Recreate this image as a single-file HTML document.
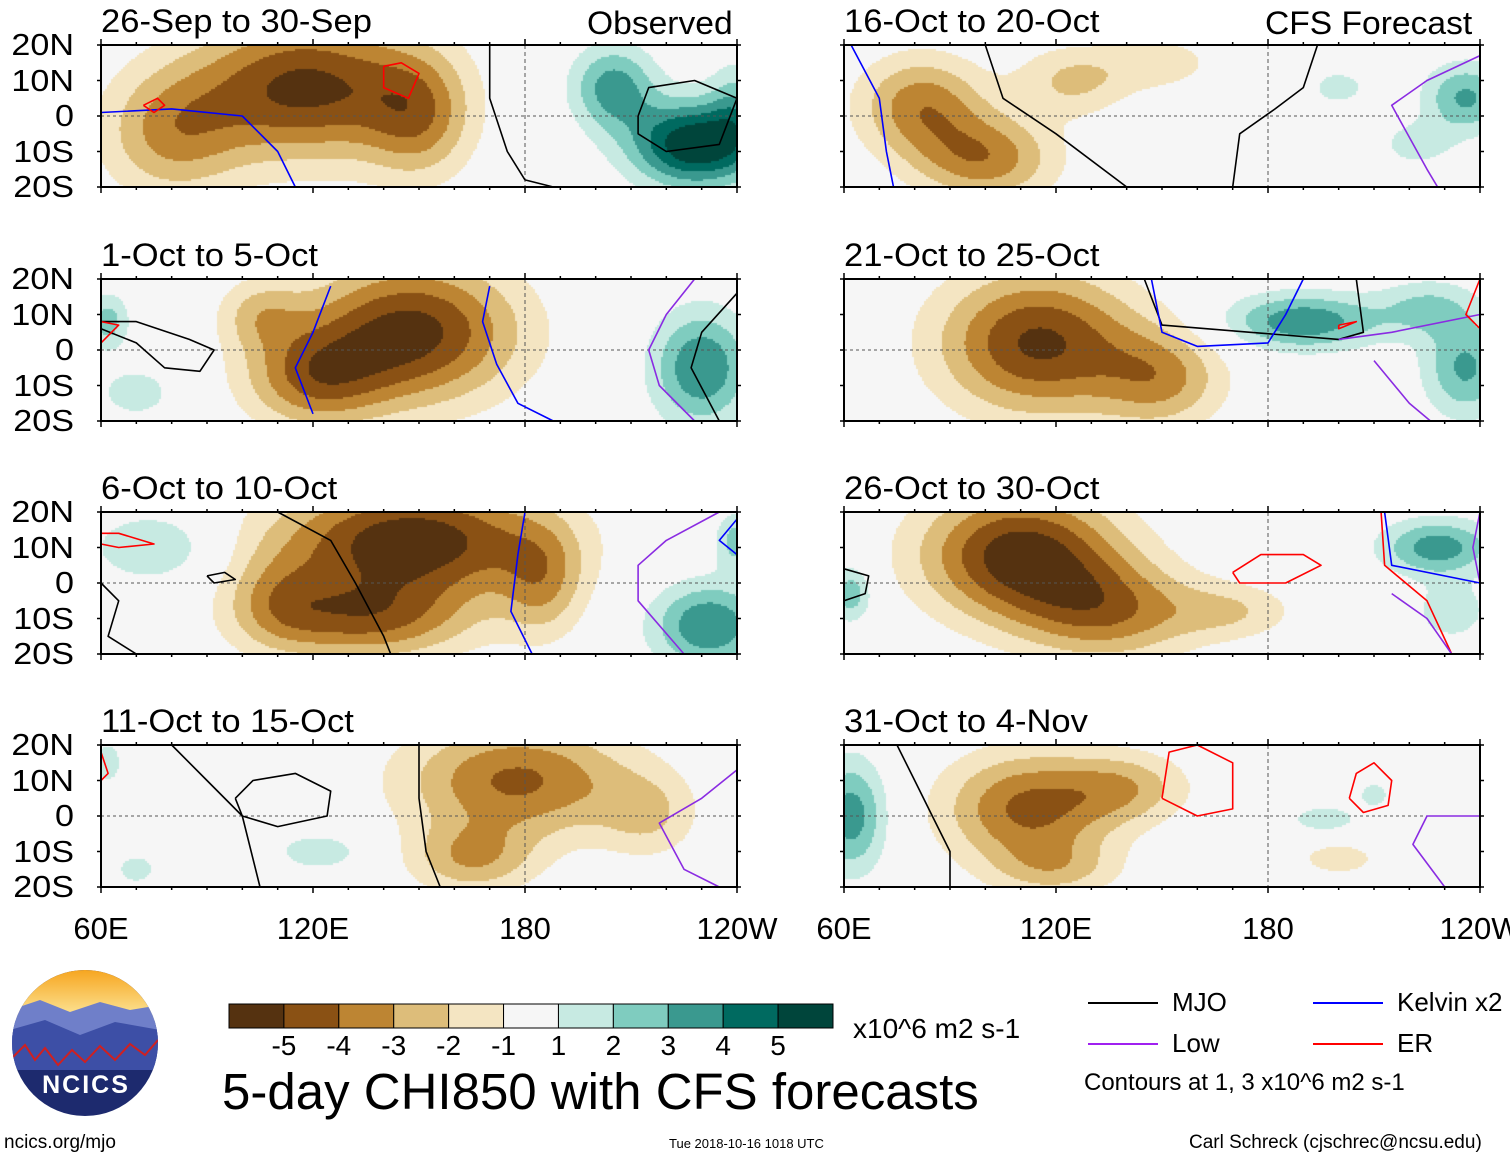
<!DOCTYPE html>
<html><head><meta charset="utf-8">
<style>
body{margin:0;background:#fff;width:1510px;height:1159px;overflow:hidden;position:relative;font-family:"Liberation Sans",sans-serif;}
.t{position:absolute;color:#000;white-space:nowrap;line-height:1;}
canvas{position:absolute;}
svg{position:absolute;left:0;top:0;}
</style></head><body>
<div id="root"></div>
<svg id="ov" width="1510" height="1159"></svg>
<script>
// ---- data ----
const panelTitles=["26-Sep to 30-Sep","1-Oct to 5-Oct","6-Oct to 10-Oct","11-Oct to 15-Oct","16-Oct to 20-Oct","21-Oct to 25-Oct","26-Oct to 30-Oct","31-Oct to 4-Nov"];
const levels=[-5,-4,-3,-2,-1,1,2,3,4,5];
const levelColors=["#553210","#8a5114","#bd8533","#ddbd7a","#f4e5c2","#f6f6f6","#c7eae2","#7fccbf","#3a998f","#006a60","#00453b"];
const levelLabels=["-5","-4","-3","-2","-1","1","2","3","4","5"];
const xTickLabels=["60E","120E","180","120W"];
const xTickLons=[60,120,180,240];
const yTickLabels=["20N","10N","0","10S","20S"];
const yTickLats=[20,10,0,-10,-20];
// blobs per panel: [lon, lat, amp, lonWidth, latWidth]
const blobs=[
 [[118,8,-5.3,32,20],[80,-5,-3,20,18],[150,0,-3,15,18],[228,-8,6,18,12],[205,8,3.5,12,12],[240,2,2,8,14]],
 [[148,5,-5.4,30,20],[120,-8,-3.5,20,14],[105,10,-2,12,10],[62,8,2.5,6,8],[230,-5,4,14,16],[70,-12,1.5,12,8]],
 [[148,12,-5.8,38,16],[135,-10,-4,30,12],[185,0,-2.5,12,16],[110,-5,-2,15,14],[232,-12,4,16,12],[75,10,2,18,10],[240,12,2.5,6,8]],
 [[178,10,-4.2,32,16],[165,-12,-2.8,18,10],[215,0,-1.8,14,12],[122,-10,1.6,14,6],[62,15,1.8,4,6],[70,-15,1.3,8,6]],
 [[82,3,-3.6,18,14],[100,-12,-3.6,20,12],[125,10,-2.2,16,10],[150,15,-1.5,16,8],[236,5,3.2,12,10],[200,8,1.6,8,5],[222,-8,1.6,10,6]],
 [[115,2,-5.2,28,20],[150,-8,-3,18,14],[190,8,3.8,22,8],[236,-5,3.2,12,14],[225,12,2,14,8]],
 [[110,8,-5.6,28,18],[135,-8,-3.5,25,14],[170,-8,-1.8,18,8],[228,10,3.6,16,8],[62,-3,2.8,6,8],[232,-8,1.8,10,8]],
 [[112,2,-4.2,24,16],[140,8,-2.4,18,10],[120,-15,-1.8,18,8],[62,0,3.6,10,16],[196,-1,1.8,10,4],[210,6,1.5,5,4],[200,-12,-1.4,14,6]]
];
// contour lines: [color, [lon,lat,...]]
const lines=[
 [["#000",[170,20,170,5,175,-10,180,-18,188,-20]],["#00f",[60,1,80,2,100,0,110,-10,115,-20]],["#000",[212,0,215,8,228,10,240,5,235,-8,220,-10,212,-5,212,0]],["#f00",[72,3,76,5,78,3,75,1,72,3]],["#f00",[140,14,145,15,150,12,147,5,140,8,140,14]]],
 [["#000",[60,8,70,8,85,3,92,0,88,-6,78,-5,70,2,60,6]],["#00f",[125,18,120,5,115,-5,120,-18]],["#00f",[170,18,168,8,172,-4,178,-15,188,-20]],["#8a2be2",[228,20,220,10,215,0,218,-10,228,-20]],["#000",[240,16,230,5,227,-5,235,-20]],["#f00",[60,8,65,7,60,2]]],
 [["#000",[110,20,125,12,132,0,140,-15,142,-20]],["#000",[60,0,65,-5,62,-15,70,-20]],["#00f",[180,20,178,8,176,-8,182,-20]],["#8a2be2",[235,20,220,12,212,5,212,-5,225,-20]],["#00f",[240,18,235,12,240,8]],["#f00",[60,14,65,14,75,11,65,10,60,11]],["#000",[90,2,95,3,98,1,92,0,90,2]]],
 [["#000",[80,20,90,10,100,0,105,-20]],["#000",[150,20,150,5,152,-10,156,-20]],["#000",[98,5,103,10,115,12,125,7,124,0,110,-3,100,0,98,5]],["#8a2be2",[240,13,230,5,218,-2,225,-15,235,-20]],["#f00",[60,18,62,12,60,10]]],
 [["#00f",[62,20,70,5,72,-10,74,-20]],["#000",[100,20,105,5,120,-5,140,-20]],["#000",[170,-20,172,-5,182,2,190,8,194,20]],["#8a2be2",[240,17,225,10,215,3,225,-15,228,-20]]],
 [["#000",[145,20,150,7,175,5,200,3,207,5,205,20]],["#00f",[147,20,150,5,160,1,180,2,185,10,190,20]],["#8a2be2",[200,3,215,5,240,10]],["#8a2be2",[210,-3,220,-15,226,-20]],["#f00",[200,7,205,8,200,6,200,7]],["#f00",[240,20,236,10,240,6]]],
 [["#000",[60,-5,66,-3,67,2,60,4]],["#f00",[170,3,178,8,190,8,195,5,185,0,172,0,170,3]],["#f00",[212,20,213,5,225,-5,232,-20]],["#00f",[213,20,215,5,240,0]],["#8a2be2",[240,20,238,10,240,0]],["#8a2be2",[215,-3,225,-10,232,-20]]],
 [["#000",[75,20,80,10,85,0,90,-10,90,-20]],["#f00",[150,5,152,18,160,20,170,15,170,2,160,0,150,5]],["#f00",[203,5,205,12,210,15,215,10,214,3,207,1,203,5]],["#8a2be2",[240,0,225,0,221,-8,230,-20]]]
];
// ---- layout ----
const px=[101,844], py=[45,279,512,745], PW=636, PH=142;
const ov=document.getElementById('ov'), root=document.getElementById('root');
const NS="http://www.w3.org/2000/svg";
function sv(tag,attrs,parent){const e=document.createElementNS(NS,tag);for(const k in attrs)e.setAttribute(k,attrs[k]);(parent||ov).appendChild(e);return e;}
function txt(s,x,y,size,extra){const d=document.createElement('div');d.className='t';d.textContent=s;d.style.left=x+'px';d.style.top=y+'px';d.style.fontSize=size+'px';if(extra)Object.assign(d.style,extra);root.appendChild(d);return d;}
function colorFor(v){let i=0;while(i<levels.length&&v>=levels[i])i++;return levelColors[i];}
for(let p=0;p<8;p++){
 const X0=px[p<4?0:1], Y0=py[p%4];
 const xs=lon=>X0+(lon-60)/180*PW, ys=lat=>Y0+(20-lat)/40*PH;
 const cv=document.createElement('canvas');cv.width=PW;cv.height=PH;cv.style.left=X0+'px';cv.style.top=Y0+'px';
 
 
 document.body.insertBefore(cv,ov);
 const c=cv.getContext('2d');const B=2;
 for(let y=0;y<PH;y+=B)for(let x=0;x<PW;x+=B){
  const lon=60+(x+1)/PW*180, lat=20-(y+1)/PH*40;let v=0;
  for(const b of blobs[p]){const dx=(lon-b[0])/b[3],dy=(lat-b[1])/b[4];v+=b[2]*Math.exp(-dx*dx-dy*dy);}
  c.fillStyle=colorFor(v);c.fillRect(x,y,B,B);
 }
 const g=sv('g',{});
 
 
 sv('line',{x1:X0,x2:X0+PW,y1:ys(0),y2:ys(0),stroke:'#555','stroke-dasharray':'3,3','stroke-width':1},g);
 sv('line',{x1:xs(180),x2:xs(180),y1:Y0,y2:Y0+PH,stroke:'#555','stroke-dasharray':'4,3','stroke-width':1},g);
 for(const ln of lines[p]){const a=ln[1];let d='';for(let i=0;i<a.length;i+=2)d+=(i?'L':'M')+xs(a[i]).toFixed(1)+','+ys(a[i+1]).toFixed(1);
  const pe=sv('path',{d:d,fill:'none',stroke:ln[0],'stroke-width':1.6,'stroke-linejoin':'round'},g);
  
  }
 sv('rect',{x:X0,y:Y0,width:PW,height:PH,fill:'none',stroke:'#000','stroke-width':2},g);
 for(let lon=60;lon<=240;lon+=10){const L=(lon%60==0)?6:3;
  sv('line',{x1:xs(lon),x2:xs(lon),y1:Y0-L,y2:Y0,stroke:'#000','stroke-width':1.5},g);
  sv('line',{x1:xs(lon),x2:xs(lon),y1:Y0+PH,y2:Y0+PH+L,stroke:'#000','stroke-width':1.5},g);}
 for(const lat of yTickLats){sv('line',{x1:X0-4,x2:X0,y1:ys(lat),y2:ys(lat),stroke:'#000','stroke-width':1.5},g);sv('line',{x1:X0+PW,x2:X0+PW+4,y1:ys(lat),y2:ys(lat),stroke:'#000','stroke-width':1.5},g);}
 const tt=txt(panelTitles[p],X0,Y0-40,32,{transform:'scaleX(1.08)',transformOrigin:'0 0'});
 
 
 if(p<4){yTickLabels.forEach((s,i)=>{const d=txt(s,10,ys(yTickLats[i])-16,31,{width:64+'px',textAlign:'right',transform:'scaleX(1.1)',transformOrigin:'100% 0'});
  
  });}
 if(p%4==3){xTickLabels.forEach((s,i)=>{const d=txt(s,xs(xTickLons[i])-60,913,31,{width:'120px',textAlign:'center'});
  
  });}
}
const o1=txt("Observed",587,7,32,{transform:'scaleX(1.05)',transformOrigin:'0 0'});
const o2=txt("CFS Forecast",1265,7,32,{transform:'scaleX(1.05)',transformOrigin:'0 0'});
// colorbar
const cbx=229,cby=1004,cbw=604,cbh=24,bw=cbw/levelColors.length;
levelColors.forEach((col,i)=>{const r=sv('rect',{x:cbx+i*bw,y:cby,width:bw,height:cbh,fill:col,stroke:'#000','stroke-width':1});
 
 });
levelLabels.forEach((s,i)=>{const d=txt(s,cbx+(i+1)*bw-25,1032,28,{width:'50px',textAlign:'center'});
 
 });
txt("x10^6 m2 s-1",853,1015,28);
txt("5-day CHI850 with CFS forecasts",222,1066,51);
// legend
const leg=[["#000","MJO",1088,1003],["#00f","Kelvin x2",1313,1003],["#a020f0","Low",1088,1044],["#f00","ER",1313,1044]];
leg.forEach(l=>{const ln=sv('line',{x1:l[2],x2:l[2]+70,y1:l[3],y2:l[3],stroke:l[0],'stroke-width':2});
 
 
 const d=txt(l[1],l[2]+84,l[3]-14,26);});
txt("Contours at 1, 3 x10^6 m2 s-1",1084,1071,24);
txt("ncics.org/mjo",4,1133,19);
txt("Tue 2018-10-16 1018 UTC",669,1137,13);
txt("Carl Schreck (cjschrec@ncsu.edu)",1189,1133,19);
// logo
const lg=sv('g',{});


sv('defs',{},lg).innerHTML='<clipPath id="cc"><circle cx="85" cy="1043" r="73"/></clipPath><linearGradient id="sk" x1="0" y1="0" x2="0" y2="1"><stop offset="0" stop-color="#f6a31b"/><stop offset="1" stop-color="#fde9a0"/></linearGradient>';
const cg=sv('g',{'clip-path':'url(#cc)'},lg);
sv('rect',{x:10,y:968,width:150,height:150,fill:'#1d2a6e'},cg);
sv('rect',{x:10,y:968,width:150,height:52,fill:'url(#sk)'},cg);
sv('path',{d:'M10 1010 L40 1000 L70 1012 L100 1002 L130 1010 L160 1005 L160 1050 L10 1050Z',fill:'#6f7fc9'},cg);
sv('path',{d:'M10 1030 L45 1020 L80 1035 L115 1022 L160 1030 L160 1070 L10 1070Z',fill:'#3d4fa6'},cg);
sv('path',{d:'M12 1058 L25 1045 L35 1060 L45 1048 L58 1065 L72 1050 L85 1062 L100 1046 L115 1060 L130 1044 L145 1055 L158 1040',fill:'none',stroke:'#d02020','stroke-width':2},cg);
const nt=sv('text',{x:86,y:1093,'font-size':25,'font-weight':'bold','text-anchor':'middle',fill:'#fff','font-family':'Liberation Sans, sans-serif','letter-spacing':'2'},lg);nt.textContent='NCICS';
</script>
</body></html>
